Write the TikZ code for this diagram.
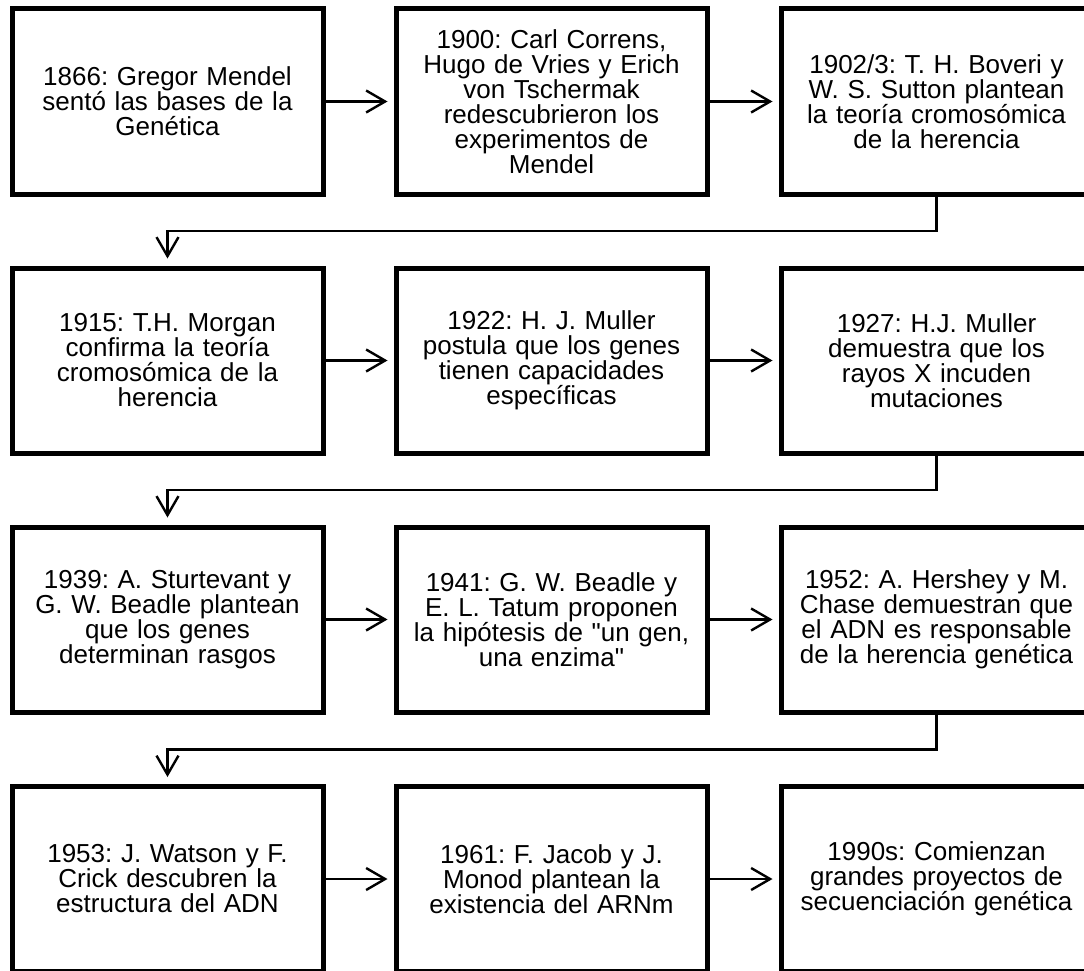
\documentclass[tikz,border=0pt]{standalone}
\usepackage{fontspec}
\setmainfont{Liberation Sans}[Ligatures=TeXOff]
\frenchspacing
\usetikzlibrary{arrows.meta}
\tikzset{
  evbox/.style={draw=black, line width=5pt, fill=white, rectangle,
    minimum width=311pt, minimum height=185pt, inner sep=0pt,
    text width=300pt, align=center,
    font=\fontsize{26}{25}\selectfont},
  arr/.style={draw=black, line width=2.4pt,
    -{Straight Barb[length=19pt,width=22pt,line width=2.4pt]}}
}
\begin{document}
\begin{tikzpicture}[x=1pt,y=-1pt]
\useasboundingbox (0,0) rectangle (1084,971);
\clip (0,0) rectangle (1084,971);
\fill[white] (0,0) rectangle (1084,971);
% row 1
\node[evbox] (b1) at (167.5,101.5) {1866: Gregor Mendel\\sentó las bases de la\\Genética};
\node[evbox] (b2) at (551.5,101.5) {1900: Carl Correns,\\Hugo de Vries y Erich\\von Tschermak\\redescubrieron los\\experimentos de\\Mendel};
\node[evbox] (b3) at (936.5,101.5) {1902/3: T. H. Boveri y\\W. S. Sutton plantean\\la teoría cromosómica\\de la herencia};
% row 2
\node[evbox] (b4) at (167.5,360.5) {1915: T.H. Morgan\\confirma la teoría\\cromosómica de la\\herencia};
\node[evbox] (b5) at (551.5,360.5) {1922: H. J. Muller\\postula que los genes\\tienen capacidades\\específicas};
\node[evbox] (b6) at (936.5,360.5) {1927: H.J. Muller\\demuestra que los\\rayos X incuden\\mutaciones};
% row 3
\node[evbox] (b7) at (167.5,619.5) {1939: A. Sturtevant y\\G. W. Beadle plantean\\que los genes\\determinan rasgos};
\node[evbox] (b8) at (551.5,619.5) {1941: G. W. Beadle y\\E. L. Tatum proponen\\la hipótesis de "un gen,\\una enzima"};
\node[evbox] (b9) at (936.5,619.5) {1952: A. Hershey y M.\\Chase demuestran que\\el ADN es responsable\\de la herencia genética};
% row 4
\node[evbox] (b10) at (167.5,879) {1953: J. Watson y F.\\Crick descubren la\\estructura del ADN};
\node[evbox] (b11) at (551.5,879) {1961: F. Jacob y J.\\Monod plantean la\\existencia del ARNm};
\node[evbox] (b12) at (936.5,879) {1990s: Comienzan\\grandes proyectos de\\secuenciación genética};
% mid lines between rows
\coordinate (m1) at (0,231);
\coordinate (m2) at (0,490);
\coordinate (m3) at (0,749.5);
% horizontal arrows
\foreach \a/\b in {b1/b2,b2/b3,b4/b5,b5/b6,b7/b8,b8/b9,b10/b11,b11/b12}
  \draw[arr] (\a.east) -- ([xshift=-6pt]\b.west);
% row transitions
\draw[arr] (b3.south) -- (b3.south |- m1) -| ([yshift=7pt]b4.north);
\draw[arr] (b6.south) -- (b6.south |- m2) -| ([yshift=7pt]b7.north);
\draw[arr] (b9.south) -- (b9.south |- m3) -| ([yshift=7pt]b10.north);
\end{tikzpicture}
\end{document}
